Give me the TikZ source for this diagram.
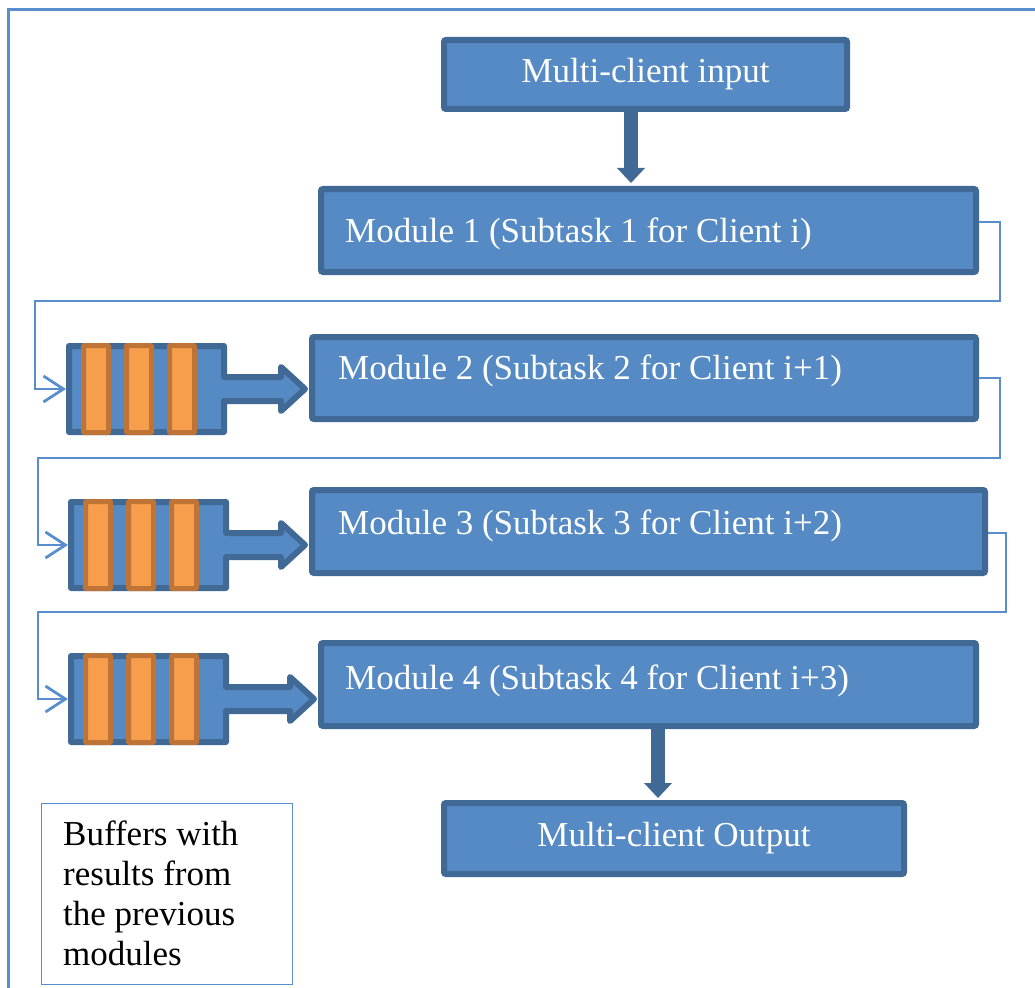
\documentclass[tikz,border=0pt]{standalone}
\usepackage{fontspec}
\setmainfont{Liberation Serif}
\usetikzlibrary{arrows.meta,calc}
\definecolor{boxfill}{RGB}{85,138,196}
\definecolor{boxline}{RGB}{64,105,150}
\definecolor{barfill}{RGB}{247,158,77}
\definecolor{barline}{RGB}{190,115,55}
\definecolor{thinblue}{RGB}{88,142,206}
\newcommand\mkbuf[4]{%
  \begin{scope}[shift={(#2,#3)}]
    \node[bufnode] (#1) at (80.5,46) {};
    \draw[bufstyle] (3,3) -- (158,3) -- (158,34) -- ({#4-#2-28},34) -- ({#4-#2-28},24)
      -- ({#4-#2-4},46) -- ({#4-#2-28},68) -- ({#4-#2-28},58) -- (158,58) -- (158,89) -- (3,89) -- cycle;
    \foreach \bx in {15,58,101} \draw[barstyle] (\bx+2.5,2.5) rectangle (\bx+27.5,89.5);
  \end{scope}}
\begin{document}
\begin{tikzpicture}[x=1pt,y=-1pt,
  modbox/.style={draw=boxline, fill=boxfill, line width=6pt, rounded corners=2pt, inner sep=0pt},
  modtext/.style={text=white, font=\fontsize{35}{40}\selectfont, inner sep=0pt},
  endtext/.style={text=white, font=\fontsize{35}{40}\selectfont},
  bigarrow/.style={draw=boxline, line width=14pt, -{Triangle[width=28pt,length=15pt,line width=0pt]}},
  thinconn/.style={draw=thinblue, line width=2.8pt, line join=miter, -{Straight Barb[length=20pt,width=26pt]}},
  bufnode/.style={minimum width=161pt, minimum height=92pt, inner sep=0pt, outer sep=0pt},
  bufstyle/.style={draw=boxline, fill=boxfill, line width=6pt, line join=round},
  barstyle/.style={draw=barline, fill=barfill, line width=5pt, rounded corners=1pt},
  frame/.style={draw=thinblue, line width=3pt}]
\useasboundingbox (0,0) rectangle (1035,987);
\draw[frame] (8,1000) -- (8,10) -- (1040,10);

\node[modbox, minimum width=403pt, minimum height=69pt] (in) at (645.5,74.5) {};
\node[endtext] (intext) at (645.5,74.5) {Multi-client input};
\node[modbox, minimum width=655pt, minimum height=83pt] (m1) at (648.5,230.5) {};
\node[modbox, minimum width=664pt, minimum height=82pt] (m2) at (644,378) {};
\node[modbox, minimum width=673pt, minimum height=83pt] (m3) at (648.5,531.5) {};
\node[modbox, minimum width=655pt, minimum height=83pt] (m4) at (648.5,684.5) {};
\node[modbox, minimum width=460pt, minimum height=71pt] (out) at (674,838.5) {};
\node[endtext] (outtext) at (674,838.5) {Multi-client Output};

\node[modtext, anchor=base west] (m1t) at (345,242) {Module 1 (Subtask 1 for Client i)};
\node[modtext, anchor=base west] (m2t) at (338,379) {Module 2 (Subtask 2 for Client i+1)};
\node[modtext, anchor=base west] (m3t) at (338,534) {Module 3 (Subtask 3 for Client i+2)};
\node[modtext, anchor=base west] (m4t) at (345,689) {Module 4 (Subtask 4 for Client i+3)};

\mkbuf{b1}{66}{343}{309}
\mkbuf{b2}{68}{499}{309}
\mkbuf{b3}{68}{653}{318}

\draw[bigarrow, shorten >=3pt] ($(in.south)+(-14.5,0)$) -- ($(in.south |- m1.north)+(-14.5,0)$);
\draw[bigarrow, shorten >=2pt] ($(m4.south)+(9.5,0)$) -- ($(m4.south |- out.north)+(9.5,0)$);

\draw[thinconn] ([yshift=8.5pt]m1.east) -- ++(21,0) -- ++(0,79) -| ([xshift=-31pt]b1.west) -- (b1.west);
\draw[thinconn] (m2.east) -- ++(21,0) -- ++(0,80) -| ([xshift=-30pt]b2.west) -- (b2.west);
\draw[thinconn] ([yshift=-1.5pt]m3.east) -- ++(18,0) -- ++(0,79) -| ([xshift=-30pt]b3.west) -- (b3.west);

\node[draw=thinblue, line width=1.2pt, minimum width=251pt, minimum height=181pt, inner sep=0pt, anchor=north west] (leg) at (40.5,802.5) {};
\node[anchor=base west, align=left, font=\fontsize{35}{40}\selectfont, inner sep=0pt] (legt) at (63,965) {Buffers with\\results from\\the previous\\modules};
\end{tikzpicture}
\end{document}
